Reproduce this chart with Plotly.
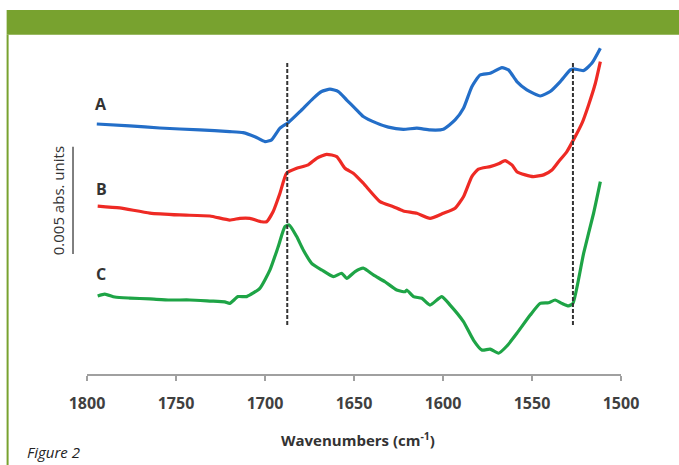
import plotly.graph_objects as go

# Wavenumbers (cm-1) and absorbance values (units of 1e-4 abs, with vertical offsets as drawn)
wn_A = [1794.5, 1776.0, 1759.1, 1736.6, 1719.8, 1712.3, 1705.7, 1700.0, 1696.3, 1691.6, 1687.0,
        1680.4, 1672.9, 1668.2, 1663.5, 1658.8, 1654.1, 1649.4, 1644.8, 1637.2, 1630.7, 1622.3,
        1614.7, 1607.3, 1599.8, 1593.2, 1588.5, 1583.8, 1579.2, 1573.5, 1566.9, 1563.2, 1558.5,
        1552.9, 1545.4, 1539.8, 1534.1, 1528.5, 1526.7, 1521.0, 1516.3, 1511.6]
abs_A = [117.9, 117.0, 116.0, 115.1, 114.3, 113.8, 111.9, 109.6, 110.4, 115.9, 118.5,
         123.7, 130.0, 133.2, 134.3, 133.2, 129.2, 125.3, 121.4, 118.3, 116.4, 115.4,
         115.9, 115.1, 115.4, 119.8, 125.3, 135.5, 141.0, 141.8, 144.5, 143.4, 137.9,
         134.0, 131.1, 133.2, 137.9, 143.4, 143.9, 143.1, 146.6, 153.6]

wn_B = [1794.0, 1781.6, 1764.7, 1747.9, 1731.0, 1719.8, 1714.1, 1708.5, 1701.9, 1699.1, 1695.4,
        1691.6, 1687.9, 1682.2, 1675.7, 1671.0, 1665.4, 1659.7, 1655.1, 1650.4, 1644.8, 1635.4,
        1627.9, 1622.3, 1614.7, 1607.3, 1599.8, 1593.2, 1588.5, 1583.8, 1580.1, 1573.5, 1568.8,
        1565.1, 1561.3, 1558.5, 1553.8, 1549.2, 1543.5, 1538.8, 1535.1, 1530.4, 1526.7, 1521.9,
        1518.2, 1514.4, 1511.6]
abs_B = [79.2, 78.3, 75.9, 75.0, 74.5, 72.6, 73.4, 73.4, 71.8, 71.8, 76.6,
         85.2, 94.7, 97.0, 98.6, 101.7, 103.6, 102.5, 97.0, 94.7, 90.0, 81.3,
         78.9, 76.9, 75.8, 73.4, 75.8, 78.2, 83.6, 93.1, 96.6, 97.8, 99.1,
         100.6, 98.6, 95.4, 93.9, 93.1, 93.9, 96.2, 100.1, 104.9, 110.4, 118.3,
         126.9, 137.1, 147.3]

wn_C = [1794.0, 1790.0, 1784.4, 1776.0, 1764.7, 1753.5, 1742.2, 1731.0, 1722.6, 1719.8, 1715.1,
        1710.3, 1702.9, 1697.2, 1692.6, 1688.8, 1686.4, 1682.2, 1678.5, 1673.8, 1668.2, 1661.6,
        1656.9, 1654.1, 1649.4, 1644.8, 1639.1, 1632.6, 1626.0, 1621.3, 1620.4, 1616.6, 1611.9,
        1607.3, 1600.7, 1596.0, 1588.5, 1582.9, 1578.2, 1573.5, 1568.8, 1564.1, 1558.5, 1551.0,
        1545.4, 1540.7, 1537.0, 1533.2, 1529.5, 1527.0, 1521.0, 1515.4, 1511.6]
abs_C = [36.8, 37.7, 36.3, 35.8, 35.4, 34.9, 34.9, 34.4, 34.0, 33.3, 36.5,
         36.5, 40.4, 49.1, 60.0, 69.5, 70.3, 64.8, 58.5, 52.2, 49.1, 45.9,
         47.5, 45.1, 48.3, 49.9, 46.7, 43.5, 39.6, 38.8, 39.6, 36.5, 35.7,
         32.5, 36.5, 32.5, 24.7, 16.0, 11.3, 11.7, 9.8, 13.2, 19.2, 27.8,
         33.3, 33.6, 34.9, 33.3, 32.1, 33.3, 56.9, 75.8, 90.7]

marker_wn = [1687.5, 1527.0]
marker_y = [23.1, 147.3]

labels = ["A", "B", "C"]
label_y = [127.4, 87.3, 47.2]
label_wn = 1791.9

scale_bar = [56.6, 107.2]   # 0.005 abs = 50 units
x_ticks = [1800, 1750, 1700, 1650, 1600, 1550, 1500]

Y0, Y1 = 0, 157.5
X_LEFT, X_RIGHT = 1800, 1500

colors = ["#236ec8", "#ee2a24", "#1ea446"]

fig = go.Figure()
for wn, ab, c in [(wn_A, abs_A, colors[0]), (wn_B, abs_B, colors[1]), (wn_C, abs_C, colors[2])]:
    fig.add_trace(go.Scatter(x=wn, y=ab, mode="lines",
                             line=dict(color=c, width=3.2, shape="spline", smoothing=0.5),
                             showlegend=False, hoverinfo="skip"))
for w in marker_wn:
    fig.add_trace(go.Scatter(x=[w, w], y=marker_y, mode="lines",
                             line=dict(color="#333333", width=2, dash="4px,2px"),
                             showlegend=False, hoverinfo="skip"))

for lab, ly in zip(labels, label_y):
    fig.add_annotation(x=label_wn, y=ly, xref="x", yref="y", text=lab, showarrow=False,
                       font=dict(family="Open Sans", size=16, color="#333333", weight="bold"))

def ypaper(v):
    return (v - Y0) / (Y1 - Y0)

def xpaper(w):
    return (X_LEFT - w) / (X_LEFT - X_RIGHT)

# scale bar
fig.add_shape(type="line", xref="paper", yref="paper", x0=-0.0262, x1=-0.0262,
              y0=ypaper(scale_bar[0]), y1=ypaper(scale_bar[1]),
              line=dict(color="#555555", width=1.5))
fig.add_annotation(xref="paper", yref="paper", x=-0.0544, y=ypaper(sum(scale_bar) / 2),
                   xanchor="center", yanchor="middle",
                   text="0.005 abs. units", textangle=-90, showarrow=False,
                   font=dict(family="Open Sans", size=15, color="#333333"))

# green banner and left border
fig.add_shape(type="rect", xref="paper", yref="paper", x0=-0.1505, x1=1.12, y0=1.0159, y1=1.0898,
              fillcolor="#78a22f", line=dict(width=0), layer="below")
fig.add_shape(type="line", xref="paper", yref="paper", x0=-0.1487, x1=-0.1487, y0=-0.28, y1=1.0159,
              line=dict(color="#78a22f", width=2))

fig.add_annotation(xref="paper", yref="paper", x=xpaper(1648.0), y=-0.1955,
                   xanchor="center", yanchor="middle",
                   text="Wavenumbers (cm<sup>-1</sup>)", showarrow=False,
                   font=dict(family="Open Sans", size=15, color="#333333", weight="bold"))
fig.add_annotation(xref="paper", yref="paper", x=-0.1168, y=-0.2335, xanchor="left", yanchor="middle",
                   text="<i>Figure 2</i>", showarrow=False,
                   font=dict(family="Open Sans", size=15, color="#222222"))

fig.update_layout(
    width=679, height=465,
    margin=dict(l=87, r=58, t=40, b=91),
    paper_bgcolor="white", plot_bgcolor="white",
    xaxis=dict(range=[X_LEFT, X_RIGHT], tickvals=x_ticks, showgrid=False, zeroline=False,
               showline=True, linecolor="#a0a0a0", linewidth=1.5,
               ticks="outside", ticklen=5, tickcolor="#a0a0a0", tickwidth=1.5,
               ticklabelstandoff=9,
               tickfont=dict(family="Open Sans", size=16, color="#404040", weight="bold")),
    yaxis=dict(range=[Y0, Y1], visible=False),
)

fig.write_html("out.html", config={"displayModeBar": False},
               post_script="document.body.style.margin='0';document.body.style.overflow='hidden';")
